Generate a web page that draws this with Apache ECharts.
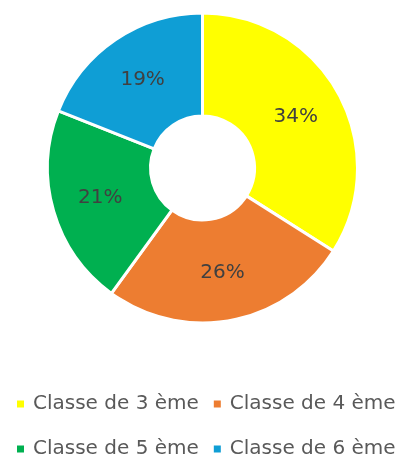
<!DOCTYPE html>
<html>
<head>
<meta charset="utf-8">
<script src="https://cdn.jsdelivr.net/npm/echarts@6/dist/echarts.min.js"></script>
<style>
  html, body { margin: 0; padding: 0; background: #fff; }
  #chart { width: 403px; height: 457px; }
</style>
</head>
<body>
<div id="chart"></div>
<script>
// données du graphique
var classes = ['Classe de 3 ème', 'Classe de 4 ème', 'Classe de 5 ème', 'Classe de 6 ème']
var parts = [34, 26, 21, 19]
var couleurs = ['#FFFF00', '#ED7D31', '#00B050', '#0F9ED5']

var police = '"DejaVu Sans", "Liberation Sans", Arial, sans-serif'

var chart = echarts.init(document.getElementById('chart'))

var legendBase = {
  icon: 'rect',
  itemWidth: 9,
  itemHeight: 9,
  itemGap: 13,
  left: 10,
  textStyle: {
    color: '#595959',
    fontSize: 20,
    fontFamily: police,
    padding: [0, 0, 0, 3]
  }
}

chart.setOption({
  color: couleurs,
  animation: false,
  legend: [
    Object.assign({}, legendBase, { data: classes.slice(0, 2), top: 389 }),
    Object.assign({}, legendBase, { data: classes.slice(2, 4), top: 434 })
  ],
  series: [{
    type: 'pie',
    center: [202.5, 168],
    radius: [52, 155],
    startAngle: 90,
    clockwise: true,
    itemStyle: {
      borderColor: '#fff',
      borderWidth: 3
    },
    label: {
      position: 'inside',
      formatter: '{c}%',
      color: '#404040',
      fontSize: 20,
      fontFamily: police
    },
    labelLine: { show: false },
    data: classes.map(function (nom, i) {
      return { name: nom, value: parts[i] }
    })
  }]
})
</script>
</body>
</html>
